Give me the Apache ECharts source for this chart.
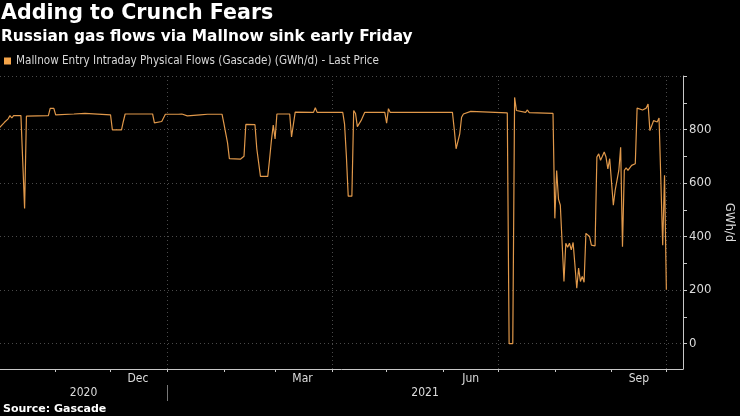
<!DOCTYPE html>
<html>
<head>
<meta charset="utf-8">
<script src="https://cdn.jsdelivr.net/npm/echarts@6/dist/echarts.min.js"></script>
<style>
  html, body { margin: 0; padding: 0; background: #000; }
  #chart { width: 740px; height: 416px; }
</style>
</head>
<body>
<div id="chart"></div>
<script>
// Mallnow entry flows, GWh/d
const dates = [
  '2020-10-01', '2020-10-04', '2020-10-06', '2020-10-07', '2020-10-08', '2020-10-09', '2020-10-13', '2020-10-14',
  '2020-10-15', '2020-10-16', '2020-10-28', '2020-10-29', '2020-10-31', '2020-11-01', '2020-11-11', '2020-11-12',
  '2020-11-17', '2020-11-18', '2020-12-01', '2020-12-02', '2020-12-07', '2020-12-08', '2020-12-09', '2020-12-24',
  '2020-12-25', '2020-12-26', '2020-12-29', '2020-12-30', '2020-12-31', '2021-01-07', '2021-01-08', '2021-01-09',
  '2021-01-12', '2021-01-19', '2021-01-23', '2021-01-31', '2021-02-01', '2021-02-02', '2021-02-03', '2021-02-04',
  '2021-02-10', '2021-02-11', '2021-02-12', '2021-02-13', '2021-02-18', '2021-02-19', '2021-02-20', '2021-02-21',
  '2021-02-25', '2021-02-26', '2021-02-27', '2021-02-28', '2021-03-01', '2021-03-02', '2021-03-09', '2021-03-10',
  '2021-03-11', '2021-03-12', '2021-03-13', '2021-03-22', '2021-03-23', '2021-03-24', '2021-04-07', '2021-04-08',
  '2021-04-09', '2021-04-10', '2021-04-12', '2021-04-13', '2021-04-14', '2021-04-15', '2021-04-16', '2021-04-17',
  '2021-04-18', '2021-04-19', '2021-04-30', '2021-05-01', '2021-05-02', '2021-05-03', '2021-06-06', '2021-06-07',
  '2021-06-08', '2021-06-09', '2021-06-10', '2021-06-11', '2021-06-12', '2021-06-16', '2021-06-17', '2021-07-06',
  '2021-07-07', '2021-07-09', '2021-07-10', '2021-07-11', '2021-07-12', '2021-07-16', '2021-07-17', '2021-07-18',
  '2021-07-31', '2021-08-01', '2021-08-02', '2021-08-03', '2021-08-04', '2021-08-05', '2021-08-06', '2021-08-07',
  '2021-08-08', '2021-08-09', '2021-08-10', '2021-08-11', '2021-08-12', '2021-08-13', '2021-08-14', '2021-08-15',
  '2021-08-16', '2021-08-17', '2021-08-18', '2021-08-19', '2021-08-20', '2021-08-21', '2021-08-23', '2021-08-24',
  '2021-08-25', '2021-08-26', '2021-08-27', '2021-08-28', '2021-08-29', '2021-08-30', '2021-08-31', '2021-09-01',
  '2021-09-02', '2021-09-03', '2021-09-04', '2021-09-05', '2021-09-06', '2021-09-07', '2021-09-08', '2021-09-09',
  '2021-09-10', '2021-09-12', '2021-09-14', '2021-09-15', '2021-09-16', '2021-09-18', '2021-09-20', '2021-09-21',
  '2021-09-22', '2021-09-23', '2021-09-24', '2021-09-25', '2021-09-26', '2021-09-27', '2021-09-28', '2021-09-29',
  '2021-09-30', '2021-10-01'
];
const flows = [
  805, 827, 840, 852, 843, 852, 852, 845,
  505, 850, 852, 879, 879, 855, 858, 855,
  860, 855, 855, 799, 799, 830, 858, 858,
  825, 828, 830, 835, 857, 857, 862, 858,
  851, 855, 857, 857, 822, 818, 750, 691,
  689, 690, 700, 819, 818, 728, 722, 625,
  625, 690, 760, 817, 765, 858, 858, 772,
  772, 865, 868, 864, 881, 864, 864, 820,
  700, 551, 551, 871, 860, 811, 818, 833,
  840, 864, 864, 824, 878, 864, 864, 800,
  728, 724, 784, 846, 858, 868, 864, 862,
  0, 0, 920, 871, 864, 864, 873, 863,
  860, 468, 647, 540, 517, 513, 232, 375,
  360, 375, 350, 378, 378, 207, 282, 232,
  251, 229, 412, 418, 400, 368, 365, 697,
  709, 685, 700, 716, 697, 653, 691, 685,
  517, 573, 580, 647, 734, 362, 647, 657,
  647, 666, 672, 880, 877, 873, 880, 895,
  796, 798, 833, 840, 828, 843, 840, 368,
  629, 201
];

// axis ticks / labels
const monthTicks = ['2020-11-01', '2020-12-01', '2021-01-01', '2021-02-01', '2021-03-01', '2021-04-01',
  '2021-05-01', '2021-06-01', '2021-07-01', '2021-08-01', '2021-09-01', '2021-10-01'];
const monthLabelDays = ['2020-12-16', '2021-03-16', '2021-06-16', '2021-09-16'];
const monthNames = ['Jan', 'Feb', 'Mar', 'Apr', 'May', 'Jun', 'Jul', 'Aug', 'Sep', 'Oct', 'Nov', 'Dec'];
const quarterLines = ['2021-01-01', '2021-04-01', '2021-07-01', '2021-10-01'];
const yearBreaks = ['2021-01-01'];
const yTicks = [0, 100, 200, 300, 400, 500, 600, 700, 800, 900, 1000];
const yLabels = [0, 200, 400, 600, 800];
const yGrid = [0, 200, 400, 600, 800, 1000];

// local-time parse so ticks and data agree
function t(s) {
  const p = s.split('-');
  return new Date(+p[0], +p[1] - 1, +p[2]).getTime();
}
const DAY = 86400000;
const xMin = t('2020-10-01') + 0.55 * DAY;
const xMax = t('2020-10-01') + 374.1 * DAY;
const yearMids = [(xMin + t(yearBreaks[0])) / 2, (t(yearBreaks[0]) + xMax) / 2];

const labelFont = "'DejaVu Sans Condensed', 'Liberation Sans Narrow', Roboto, sans-serif";
const boldFont = "'DejaVu Sans', sans-serif";
const gridColor = '#4a4a4a';

const chart = echarts.init(document.getElementById('chart'), null, { renderer: 'canvas' });
chart.setOption({
  backgroundColor: '#000',
  animation: false,
  title: [
    {
      text: 'Adding to Crunch Fears', left: 1, top: 3, padding: 0,
      textStyle: { color: '#fff', fontSize: 20.6, fontWeight: 'bold', fontFamily: boldFont }
    },
    {
      text: 'Russian gas flows via Mallnow sink early Friday', left: 1, top: 29, padding: 0,
      textStyle: { color: '#fff', fontSize: 15.4, fontWeight: 'bold', fontFamily: boldFont }
    },
    {
      text: 'Source: Gascade', left: 3, top: 404, padding: 0,
      textStyle: { color: '#fff', fontSize: 11, fontWeight: 'bold', fontFamily: boldFont }
    }
  ],
  legend: {
    left: 4, top: 55, padding: 0,
    icon: 'rect', itemWidth: 7, itemHeight: 7, itemGap: 4,
    textStyle: { color: '#d8d8d8', fontSize: 11.6, fontFamily: labelFont },
    data: ['Mallnow Entry Intraday Physical Flows (Gascade) (GWh/d) - Last Price']
  },
  grid: { left: 0, right: 57, top: 76, bottom: 47, outerBoundsMode: 'none' },
  xAxis: [
    {
      type: 'value', min: xMin, max: xMax, position: 'bottom',
      axisLine: { show: true, onZero: false, lineStyle: { color: '#c8c8c8', width: 1 } },
      axisTick: { show: true, customValues: monthTicks.map(t), length: 3, lineStyle: { color: '#c8c8c8' } },
      axisLabel: {
        customValues: monthLabelDays.map(t), color: '#dcdcdc', fontSize: 12, margin: 4, fontFamily: labelFont,
        formatter: v => monthNames[new Date(v).getMonth()]
      },
      splitLine: { show: false }
    },
    {
      type: 'value', min: xMin, max: xMax, position: 'bottom', offset: 16,
      axisLine: { show: false, onZero: false },
      axisTick: { show: true, customValues: yearBreaks.map(t), length: 16, lineStyle: { color: '#777' } },
      axisLabel: {
        customValues: yearMids, color: '#dcdcdc', fontSize: 12, margin: 2, fontFamily: labelFont,
        formatter: v => String(new Date(v).getFullYear())
      },
      splitLine: { show: false }
    },
    {
      type: 'value', min: xMin, max: xMax, position: 'bottom',
      axisLine: { show: false, onZero: false },
      axisTick: { show: false, customValues: quarterLines.map(t) },
      axisLabel: { show: false },
      splitLine: { show: true, lineStyle: { color: gridColor, type: [1, 3], width: 1 } }
    }
  ],
  yAxis: [
    {
      type: 'value', position: 'right', min: -95, max: 1000,
      name: 'GWh/d', nameLocation: 'middle', nameRotate: -90, nameGap: 40,
      nameTextStyle: { color: '#dcdcdc', fontSize: 13, fontFamily: labelFont },
      axisLine: { show: true, onZero: false, lineStyle: { color: '#c8c8c8', width: 1 } },
      axisTick: { show: true, customValues: yTicks, length: 4, lineStyle: { color: '#c8c8c8' } },
      axisLabel: { customValues: yLabels, color: '#dcdcdc', fontSize: 13, margin: 6, fontFamily: labelFont },
      splitLine: { show: false }
    },
    {
      type: 'value', position: 'right', min: -95, max: 1000,
      axisLine: { show: false, onZero: false },
      axisTick: { show: false, customValues: yGrid },
      axisLabel: { show: false },
      splitLine: { show: true, lineStyle: { color: gridColor, type: [1, 3], width: 1 } }
    }
  ],
  series: [
    {
      name: 'Mallnow Entry Intraday Physical Flows (Gascade) (GWh/d) - Last Price',
      type: 'line',
      xAxisIndex: 0,
      yAxisIndex: 0,
      data: dates.map((d, i) => [t(d), flows[i]]),
      showSymbol: false,
      clip: true,
      itemStyle: { color: '#f5a54a' },
      lineStyle: { color: '#e0984a', width: 1.2 }
    }
  ]
});
</script>
</body>
</html>
